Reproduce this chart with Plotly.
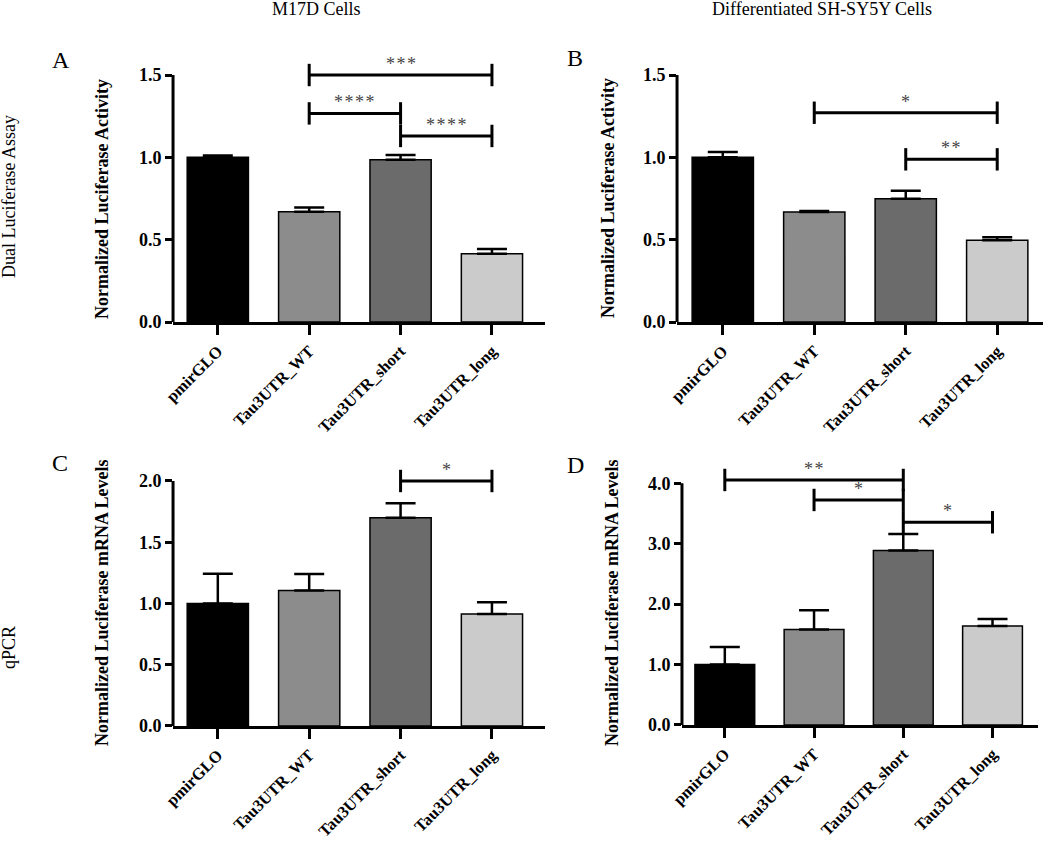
import plotly.graph_objects as go

categories = ["pmirGLO", "Tau3UTR_WT", "Tau3UTR_short", "Tau3UTR_long"]
bar_colors = ["#000000", "#8c8c8c", "#6b6b6b", "#cbcbcb"]

# Panel A - M17D dual luciferase
a_mean = [1.00, 0.67, 0.985, 0.415]
a_err = [0.012, 0.025, 0.03, 0.028]
a_sig_start = [1, 1, 2]
a_sig_end = [3, 2, 3]
a_sig_y = [1.50, 1.267, 1.13]
a_sig_label = ["***", "****", "****"]

# Panel B - SH-SY5Y dual luciferase
b_mean = [1.00, 0.668, 0.748, 0.497]
b_err = [0.032, 0.007, 0.049, 0.018]
b_sig_start = [1, 2]
b_sig_end = [3, 3]
b_sig_y = [1.271, 0.988]
b_sig_label = ["*", "**"]

# Panel C - M17D qPCR
c_mean = [1.00, 1.105, 1.70, 0.915]
c_err = [0.243, 0.135, 0.118, 0.095]
c_sig_start = [2]
c_sig_end = [3]
c_sig_y = [2.0]
c_sig_label = ["*"]

# Panel D - SH-SY5Y qPCR
d_mean = [1.00, 1.58, 2.89, 1.64]
d_err = [0.29, 0.32, 0.27, 0.115]
d_sig_start = [0, 1, 2]
d_sig_end = [2, 2, 3]
d_sig_y = [4.056, 3.725, 3.356]
d_sig_label = ["**", "*", "*"]

y_ticks_ab = [0.0, 0.5, 1.0, 1.5]
y_ticks_c = [0.0, 0.5, 1.0, 1.5, 2.0]
y_ticks_d = [0.0, 1.0, 2.0, 3.0, 4.0]

col_titles = ["M17D Cells", "Differentiated SH-SY5Y Cells"]
row_titles = ["Dual Luciferase Assay", "qPCR"]
panel_letters = ["A", "B", "C", "D"]
y_titles = ["Normalized Luciferase Activity", "Normalized Luciferase Activity",
            "Normalized Luciferase mRNA Levels", "Normalized Luciferase mRNA Levels"]

SERIF = "Times New Roman, Liberation Serif, serif"

panels = [
    dict(mean=a_mean, err=a_err, s=a_sig_start, e=a_sig_end, y=a_sig_y, lab=a_sig_label,
         xdom=[0.1648, 0.5190], ydom=[0.6180, 0.9403], xr=[-0.49, 3.58], yr=[0, 1.65],
         ticks=y_ticks_ab, fmt=".1f"),
    dict(mean=b_mean, err=b_err, s=b_sig_start, e=b_sig_end, y=b_sig_y, lab=b_sig_label,
         xdom=[0.6448, 0.9933], ydom=[0.6180, 0.9403], xr=[-0.5, 3.5], yr=[0, 1.65],
         ticks=y_ticks_ab, fmt=".1f"),
    dict(mean=c_mean, err=c_err, s=c_sig_start, e=c_sig_end, y=c_sig_y, lab=c_sig_label,
         xdom=[0.1648, 0.5190], ydom=[0.1388, 0.4585], xr=[-0.49, 3.58], yr=[0, 2.2],
         ticks=y_ticks_c, fmt=".1f"),
    dict(mean=d_mean, err=d_err, s=d_sig_start, e=d_sig_end, y=d_sig_y, lab=d_sig_label,
         xdom=[0.6495, 0.9886], ydom=[0.1400, 0.4553], xr=[-0.48, 3.51], yr=[0, 4.4],
         ticks=y_ticks_d, fmt=".1f"),
]

fig = go.Figure()
layout = dict(
    width=1050, height=843,
    margin=dict(l=0, r=0, t=0, b=0, autoexpand=False),
    paper_bgcolor="white", plot_bgcolor="white",
    showlegend=False,
    font=dict(family=SERIF, color="black"),
)
annotations = []
shapes = []

for i, p in enumerate(panels):
    n = "" if i == 0 else str(i + 1)
    xa, ya = "x" + n, "y" + n
    fig.add_trace(go.Bar(
        x=categories, y=p["mean"], xaxis=xa, yaxis=ya, width=0.67,
        marker=dict(color=bar_colors, line=dict(color="black", width=1.5)),
        error_y=dict(type="data", array=p["err"], arrayminus=[0] * len(p["err"]),
                     symmetric=False, color="black", thickness=2.5, width=15),
    ))
    for s, e, yv, lab in zip(p["s"], p["e"], p["y"], p["lab"]):
        fig.add_trace(go.Scatter(
            x=[categories[s], categories[e]], y=[yv, yv], xaxis=xa, yaxis=ya,
            mode="lines+markers", line=dict(color="black", width=3),
            marker=dict(symbol="line-ns", size=16, line=dict(color="black", width=3)),
            hoverinfo="skip", cliponaxis=False,
        ))
        annotations.append(dict(
            x=(s + e) / 2, y=yv, xref=xa, yref=ya, text="\u200a".join(lab), showarrow=False,
            yanchor="middle", yshift=11, font=dict(family=SERIF, size=18, color="#444444"),
        ))
    layout["xaxis" + n] = dict(
        domain=p["xdom"], anchor=ya, type="category", categoryarray=categories,
        range=p["xr"], showline=True, linewidth=3, linecolor="black",
        ticks="outside", ticklen=10, tickwidth=3, tickcolor="black",
        tickangle=-45, tickfont=dict(family=SERIF, size=16.5, weight="bold"),
        showgrid=False, zeroline=False, automargin=False,
    )
    layout["yaxis" + n] = dict(
        domain=p["ydom"], anchor=xa, range=p["yr"], tickvals=p["ticks"],
        tickformat=p["fmt"], showline=False,
        ticks="outside", ticklen=7, tickwidth=3, tickcolor="black",
        tickfont=dict(family=SERIF, size=18, weight="bold"),
        showgrid=False, zeroline=False, automargin=False,
    )
    shapes.append(dict(
        type="line", xref=xa + " domain", yref=ya, x0=0, x1=0,
        y0=0, y1=p["ticks"][-1], line=dict(color="black", width=3),
    ))

# Column titles
for txt, xc in zip(col_titles, [316, 822]):
    annotations.append(dict(x=xc / 1050, y=1, xref="paper", yref="paper", text=txt,
                            showarrow=False, xanchor="center", yanchor="top", yshift=3,
                            font=dict(family=SERIF, size=18)))
# Row titles
for txt, yc in zip(row_titles, [197, 648]):
    annotations.append(dict(x=9 / 1050, y=1 - yc / 843, xref="paper", yref="paper", text=txt,
                            showarrow=False, textangle=-90, xanchor="center", yanchor="middle",
                            font=dict(family=SERIF, size=18)))
# Panel letters
for txt, (xc, yc) in zip(panel_letters, [(61, 60), (575, 58), (60, 463), (575, 465)]):
    annotations.append(dict(x=xc / 1050, y=1 - yc / 843, xref="paper", yref="paper", text=txt,
                            showarrow=False, xanchor="center", yanchor="middle",
                            font=dict(family=SERIF, size=24)))
# Y-axis titles
for txt, (xc, yc) in zip(y_titles, [(102, 199), (608, 198), (102, 603), (612, 603)]):
    annotations.append(dict(x=xc / 1050, y=1 - yc / 843, xref="paper", yref="paper", text=txt,
                            showarrow=False, textangle=-90, xanchor="center", yanchor="middle",
                            font=dict(family=SERIF, size=18, weight="bold")))

layout["annotations"] = annotations
layout["shapes"] = shapes
fig.update_layout(**layout)
fig.write_html(
    "out.html",
    config={"displayModeBar": False},
    post_script="document.body.style.margin='0px';document.body.style.overflow='hidden';",
)
